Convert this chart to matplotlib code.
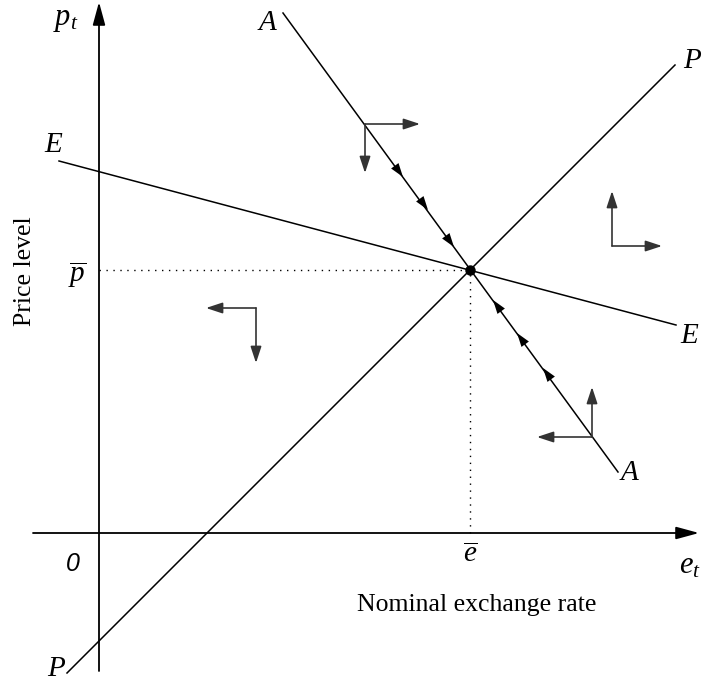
import matplotlib
matplotlib.use('Agg')
import matplotlib.pyplot as plt
import numpy as np

plt.rcParams['font.family'] = ['Liberation Serif', 'DejaVu Serif']
plt.rcParams['mathtext.fontset'] = 'custom'
plt.rcParams['mathtext.rm'] = 'Liberation Serif'
plt.rcParams['mathtext.it'] = 'Liberation Serif:italic'

# equilibrium
e_bar = 3.71
p_bar = 2.63

# schedule end points (e, p)
pp_e = [-0.32, 5.76]
pp_p = [-1.40, 4.68]
ee_e = [-0.40, 5.77]
ee_p = [3.72, 2.08]
aa_e = [1.84, 5.19]
aa_p = [5.20, 0.61]

# flow arrows along the saddle path (tip positions)
down_e = [3.04, 3.29, 3.55]
down_p = [3.56, 3.23, 2.86]
up_e = [3.94, 4.18, 4.44]
up_p = [2.33, 2.00, 1.65]

# direction crosses: corner, horizontal and vertical arrow lengths
cross_e = [2.66, 5.13, 1.57, 4.93]
cross_p = [4.09, 2.87, 2.25, 0.96]
cross_dx = [0.55, 0.50, -0.50, -0.55]
cross_dy = [-0.49, 0.55, -0.55, 0.50]

fig = plt.figure(figsize=(7.08, 6.85), dpi=100)
ax = fig.add_axes([0, 0, 1, 1])
ax.set_xlim(-0.99, 6.09)
ax.set_ylim(-1.52, 5.33)
ax.axis('off')

def arrow(x0, y0, x1, y1, hl=0.7, hw=0.3, lw=1.1, color='k'):
    ax.annotate('', xy=(x1, y1), xytext=(x0, y0),
                arrowprops=dict(arrowstyle='-|>,head_length=%g,head_width=%g' % (hl, hw),
                                lw=lw, color=color, shrinkA=0, shrinkB=0,
                                mutation_scale=10))

# axes
arrow(-0.66, 0, 6.00, 0, hl=1.4, hw=0.38, lw=1.3)
arrow(0, -1.38, 0, 5.31, hl=1.4, hw=0.38, lw=1.3)

# dotted guides
ax.plot([0, e_bar], [p_bar, p_bar], color='k', lw=1, ls=(0, (1, 4)))
ax.plot([e_bar, e_bar], [0, p_bar], color='k', lw=1, ls=(0, (1, 4)))

# schedules
ax.plot(pp_e, pp_p, color='k', lw=1.1)
ax.plot(ee_e, ee_p, color='k', lw=1.1)
ax.plot(aa_e, aa_p, color='k', lw=1.1)
ax.plot(e_bar, p_bar, 'o', color='k', ms=6.5)

# arrows along AA
d = 0.06
for x, y in zip(down_e, down_p):
    arrow(x - d, y + d * 1.37, x, y, hl=1.0, hw=0.33, lw=0)
for x, y in zip(up_e, up_p):
    arrow(x + d, y - d * 1.37, x, y, hl=1.0, hw=0.33, lw=0)

# direction crosses
for x, y, dx, dy in zip(cross_e, cross_p, cross_dx, cross_dy):
    arrow(x, y, x + dx, y, hl=1.0, hw=0.33, lw=1.2, color='#333333')
    arrow(x, y, x, y + dy, hl=1.0, hw=0.33, lw=1.2, color='#333333')

# labels
lab = dict(fontsize=21, style='italic', ha='center', va='center')
ax.text(-0.46, 3.88, 'E', **lab)
ax.text(5.90, 1.97, 'E', **lab)
ax.text(1.68, 5.10, 'A', **lab)
ax.text(5.30, 0.60, 'A', **lab)
ax.text(5.93, 4.72, 'P', **lab)
ax.text(-0.43, -1.36, 'P', **lab)
ax.text(-0.33, 5.13, r'$p_t$', fontsize=22, ha='center', va='center')
ax.text(5.91, -0.33, r'$e_t$', fontsize=22, ha='center', va='center')
ax.text(-0.22, 2.58, r'$\overline{p}$', fontsize=21, ha='center', va='center')
ax.text(e_bar, -0.22, r'$\overline{e}$', fontsize=21, ha='center', va='center')
ax.text(-0.26, -0.31, '0', fontsize=18, style='italic', family='Liberation Sans',
        ha='center', va='center')
ax.text(3.78, -0.72, 'Nominal exchange rate', fontsize=18.5, ha='center', va='center')
ax.text(-0.74, 2.62, 'Price level', fontsize=18.5, rotation=90, ha='center', va='center')

fig.savefig('out.png', dpi=100)
